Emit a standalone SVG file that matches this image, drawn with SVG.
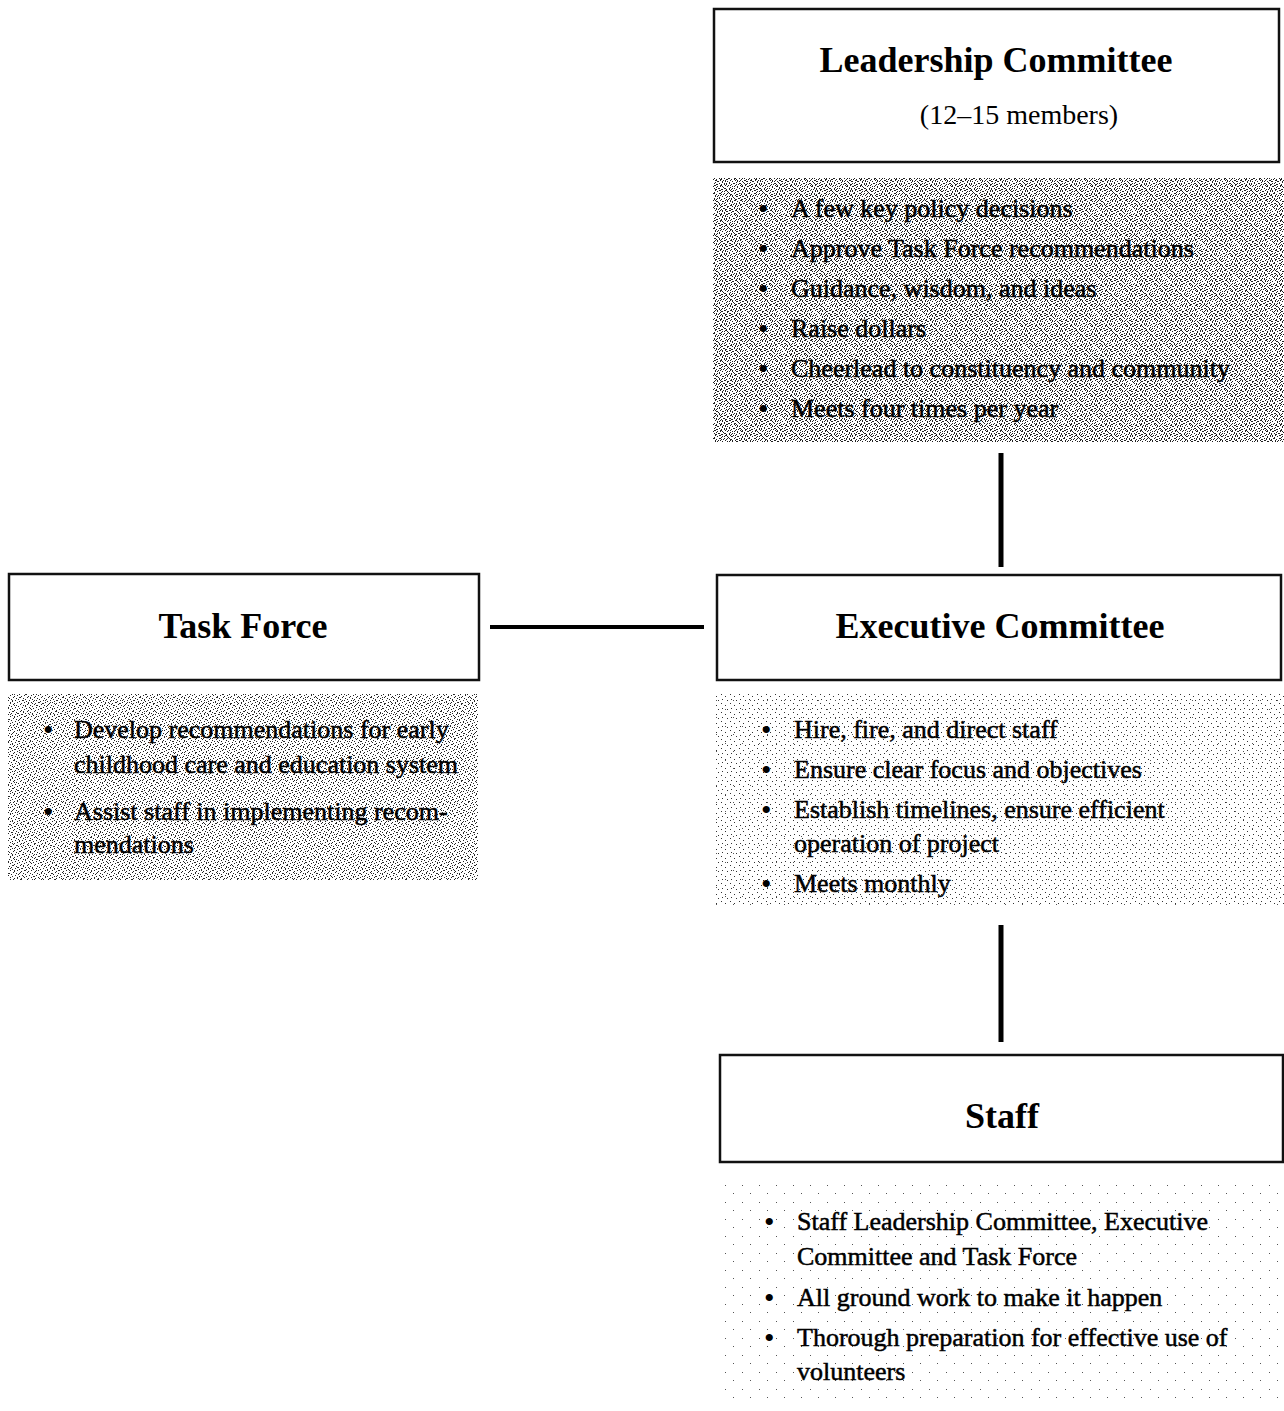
<svg xmlns="http://www.w3.org/2000/svg" width="1284" height="1411" viewBox="0 0 1284 1411">
<style>
.box{fill:#fff;stroke:#111;stroke-width:2.5}
.title{font-family:"Liberation Serif","Times New Roman",serif;font-weight:bold;font-size:36px;fill:#000;text-anchor:middle}
.sub{font-family:"Liberation Serif","Times New Roman",serif;font-size:28px;fill:#000;text-anchor:middle}
.b{font-family:"Liberation Serif","Times New Roman",serif;font-size:26px;fill:#000;stroke:#000;stroke-width:0.5}
.dot{font-family:"Liberation Serif","Times New Roman",serif;font-size:30px;fill:#000}
.conn{stroke:#000;fill:none}
</style>
<defs>
<pattern id="p5" width="5" height="5" patternUnits="userSpaceOnUse">
<rect x="0" y="0" width="1" height="1" fill="#222"/><rect x="2" y="1" width="1" height="1" fill="#222"/><rect x="4" y="3" width="1" height="1" fill="#222"/><rect x="1" y="4" width="1" height="1" fill="#222"/>
</pattern>
<pattern id="p7" width="7" height="7" patternUnits="userSpaceOnUse">
<rect x="1" y="0" width="1" height="1" fill="#222"/><rect x="5" y="1" width="1" height="1" fill="#222"/><rect x="3" y="2" width="1" height="1" fill="#222"/><rect x="0" y="3" width="1" height="1" fill="#222"/><rect x="6" y="4" width="1" height="1" fill="#222"/><rect x="2" y="5" width="1" height="1" fill="#222"/><rect x="4" y="6" width="1" height="1" fill="#222"/>
</pattern>
<pattern id="p11" width="11" height="11" patternUnits="userSpaceOnUse">
<rect x="3" y="1" width="1" height="1" fill="#333"/><rect x="8" y="4" width="1" height="1" fill="#333"/><rect x="1" y="7" width="1" height="1" fill="#333"/><rect x="6" y="9" width="1" height="1" fill="#333"/><rect x="10" y="10" width="1" height="1" fill="#333"/>
</pattern>
<pattern id="p9" width="9" height="9" patternUnits="userSpaceOnUse">
<rect x="1" y="1" width="1" height="1" fill="#333"/><rect x="5" y="3" width="1" height="1" fill="#333"/><rect x="2" y="6" width="1" height="1" fill="#333"/><rect x="7" y="7" width="1" height="1" fill="#333"/>
</pattern>
<pattern id="p17" width="17" height="17" patternUnits="userSpaceOnUse">
<rect x="2" y="3" width="1" height="1" fill="#555"/><rect x="11" y="12" width="1" height="1" fill="#555"/>
</pattern>
</defs>

<g id="connectors">
<line class="conn" x1="1001" y1="453" x2="1001" y2="567" stroke-width="5"/>
<line class="conn" x1="490" y1="627" x2="704" y2="627" stroke-width="4"/>
<line class="conn" x1="1001" y1="925" x2="1001" y2="1042" stroke-width="5"/>
</g>

<g id="leadership">
<rect class="box" x="714" y="9" width="565" height="153"/>
<text class="title" x="996" y="72">Leadership Committee</text>
<text class="sub" x="1019" y="124">(12–15 members)</text>
</g>
<g id="leadership-notes">
<rect x="713" y="178" width="571" height="264" fill="url(#p7)"/>
<rect x="713" y="178" width="571" height="264" fill="url(#p5)"/>
<text class="dot" x="758" y="219">•</text><text class="b" x="791" y="217">A few key policy decisions</text>
<text class="dot" x="758" y="259">•</text><text class="b" x="791" y="257">Approve Task Force recommendations</text>
<text class="dot" x="758" y="299">•</text><text class="b" x="791" y="297">Guidance, wisdom, and ideas</text>
<text class="dot" x="758" y="339">•</text><text class="b" x="791" y="337">Raise dollars</text>
<text class="dot" x="758" y="379">•</text><text class="b" x="791" y="377">Cheerlead to constituency and community</text>
<text class="dot" x="758" y="419">•</text><text class="b" x="791" y="417">Meets four times per year</text>
</g>

<g id="task-force">
<rect class="box" x="9" y="574" width="470" height="106"/>
<text class="title" x="243" y="638">Task Force</text>
</g>
<g id="task-force-notes">
<rect x="8" y="694" width="470" height="186" fill="url(#p7)"/>
<rect x="8" y="694" width="470" height="186" fill="url(#p11)"/>
<text class="dot" x="43" y="740">•</text><text class="b" x="74" y="738">Develop recommendations for early</text>
<text class="b" x="74" y="773">childhood care and education system</text>
<text class="dot" x="43" y="822">•</text><text class="b" x="74" y="820">Assist staff in implementing recom-</text>
<text class="b" x="74" y="853">mendations</text>
</g>

<g id="executive">
<rect class="box" x="717" y="575" width="564" height="105"/>
<text class="title" x="1000" y="638">Executive Committee</text>
</g>
<g id="executive-notes">
<rect x="716" y="694" width="568" height="212" fill="url(#p9)"/>
<rect x="716" y="694" width="568" height="212" fill="url(#p17)"/>
<text class="dot" x="761" y="740">•</text><text class="b" x="794" y="738">Hire, fire, and direct staff</text>
<text class="dot" x="761" y="780">•</text><text class="b" x="794" y="778">Ensure clear focus and objectives</text>
<text class="dot" x="761" y="820">•</text><text class="b" x="794" y="818">Establish timelines, ensure efficient</text>
<text class="b" x="794" y="852">operation of project</text>
<text class="dot" x="761" y="894">•</text><text class="b" x="794" y="892">Meets monthly</text>
</g>

<g id="staff">
<rect class="box" x="720" y="1055" width="563" height="107"/>
<text class="title" x="1002" y="1128">Staff</text>
</g>
<g id="staff-notes">
<rect x="722" y="1180" width="562" height="226" fill="url(#p17)"/>
<text class="dot" x="764" y="1232">•</text><text class="b" x="797" y="1230">Staff Leadership Committee, Executive</text>
<text class="b" x="797" y="1265">Committee and Task Force</text>
<text class="dot" x="764" y="1308">•</text><text class="b" x="797" y="1306">All ground work to make it happen</text>
<text class="dot" x="764" y="1348">•</text><text class="b" x="797" y="1346">Thorough preparation for effective use of</text>
<text class="b" x="797" y="1380">volunteers</text>
</g>
</svg>
